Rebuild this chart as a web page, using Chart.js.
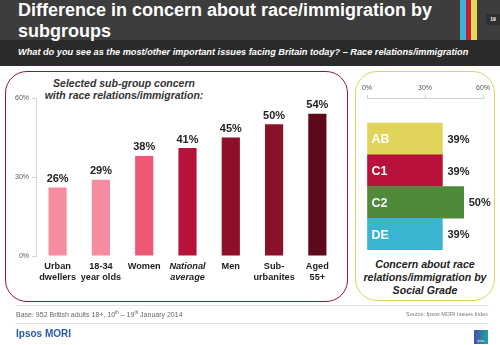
<!DOCTYPE html>
<html>
<head>
<meta charset="utf-8">
<script src="https://cdn.jsdelivr.net/npm/chart.js@4"></script>
<style>
  body { margin: 0; width: 500px; height: 345px; background: #fff; font-family: "Liberation Sans", Arial, sans-serif; position: relative; overflow: hidden; }
  .abs { position: absolute; }
  #head { left: 0; top: 0; width: 500px; height: 40px; background: #3d3d3d; }
  #sub { left: 0; top: 40px; width: 500px; height: 26px; background: #2a2a2a; }
  #title { left: 18px; top: 0; color: #fff; font-weight: bold; font-size: 18px; line-height: 21px; }
  #question { left: 18px; top: 47px; color: #fff; font-weight: bold; font-style: italic; font-size: 9.2px; }
  .stripe { top: 0; height: 40px; width: 6px; }
  #pageno { left: 486px; top: 14px; width: 14px; height: 11px; background: #303030; color: #fff; font-size: 5px; line-height: 11px; text-align: center; font-weight: bold; }
  .panel { box-sizing: border-box; border-radius: 22px; }
  #leftPanel { left: 5px; top: 71px; width: 343px; height: 231px; border: 1.5px solid #8e1a32; }
  #rightPanel { left: 355px; top: 71px; width: 140px; height: 230px; border: 1.5px solid #e2d55c; }
  #leftTitle { left: 30px; top: 77px; width: 188px; text-align: center; font-weight: bold; font-style: italic; font-size: 10.5px; line-height: 12px; color: #333; }
  #rightTitle { left: 357px; top: 258px; width: 136px; text-align: center; font-weight: bold; font-style: italic; font-size: 10.6px; line-height: 13px; color: #222; }
  #rule1 { left: 15px; top: 305px; width: 474px; height: 1px; background: #e4e4e4; }
  #rule2 { left: 15px; top: 323px; width: 474px; height: 1px; background: #e4e4e4; }
  #base { left: 16px; top: 310px; font-size: 7px; color: #666; }
  #base sup { font-size: 4.5px; }
  #source { right: 12px; top: 311px; font-size: 5.5px; color: #777; }
  #brand { left: 16px; top: 328px; font-size: 10px; font-weight: bold; color: #2b5aa6; }
  #logo { left: 474px; top: 330px; width: 14px; height: 14px; background: linear-gradient(90deg, #4a4fa8, #1aa6a0); color: #fff; font-size: 3px; text-align: center; line-height: 22px; }
  canvas { position: absolute; }
</style>
</head>
<body>
<div id="head" class="abs"></div>
<div id="sub" class="abs"></div>
<div id="title" class="abs">Difference in concern about race/immigration by<br>subgroups</div>
<div id="question" class="abs">What do you see as the most/other important issues facing Britain today? – Race relations/immigration</div>
<div class="abs stripe" style="left:460px;background:#3bb4cf"></div>
<div class="abs stripe" style="left:466px;width:5px;background:#c41d3b"></div>
<div class="abs stripe" style="left:471px;background:#e6da52"></div>
<div id="pageno" class="abs">19</div>

<div id="leftPanel" class="abs panel"></div>
<div id="rightPanel" class="abs panel"></div>
<div id="leftTitle" class="abs">Selected sub-group concern<br>with race relations/immigration:</div>
<div id="rightTitle" class="abs">Concern about race relations/immigration by Social Grade</div>

<canvas id="groupChart" width="350" height="240" style="left:0;top:70px"></canvas>
<canvas id="gradeChart" width="140" height="190" style="left:355px;top:70px"></canvas>

<div id="rule1" class="abs"></div>
<div id="rule2" class="abs"></div>
<div id="base" class="abs">Base: 952 British adults 18+, 10<sup>th</sup> – 19<sup>th</sup> January 2014</div>
<div id="source" class="abs">Source: Ipsos MORI Issues Index</div>
<div id="brand" class="abs">Ipsos MORI</div>
<div id="logo" class="abs">Ipsos</div>

<script>
const groupLabels = [['Urban', 'dwellers'], ['18-34', 'year olds'], 'Women', ['National', 'average'], 'Men', ['Sub-', 'urbanites'], ['Aged', '55+']];
const groupValues = [26, 29, 38, 41, 45, 50, 54];
const groupColors = ['#f68ca0', '#f68ca0', '#ee5877', '#b6133a', '#8d0f28', '#8b1029', '#5c0919'];
const groupTicks = [0, 30, 60];

const grades = ['AB', 'C1', 'C2', 'DE'];
const gradeValues = [39, 39, 50, 39];
const gradeColors = ['#e0d45c', '#b8123a', '#4f8a3a', '#3ab5d0'];
const gradeTicks = [0, 30, 60];

const FONT = '"Liberation Sans", Arial, sans-serif';

// percentage labels over the bars
const groupValueLabels = {
  id: 'groupValueLabels',
  afterDatasetsDraw(chart) {
    const ctx = chart.ctx;
    ctx.save();
    ctx.font = 'bold 11px ' + FONT;
    ctx.fillStyle = '#222';
    ctx.textAlign = 'center';
    ctx.textBaseline = 'bottom';
    chart.getDatasetMeta(0).data.forEach((bar, i) => {
      ctx.fillText(groupValues[i] + '%', bar.x, bar.y - 3);
    });
    ctx.restore();
  }
};

const groupChart = new Chart(document.getElementById('groupChart').getContext('2d'), {
  type: 'bar',
  data: {
    labels: groupLabels,
    datasets: [{
      data: groupValues,
      backgroundColor: groupColors,
      categoryPercentage: 1,
      barPercentage: 0.42
    }]
  },
  options: {
    responsive: false,
    animation: false,
    layout: { padding: { top: 28, right: 11, left: 0, bottom: 0 } },
    plugins: { legend: { display: false }, tooltip: { enabled: false } },
    scales: {
      x: {
        grid: { display: false, drawTicks: false },
        border: { display: false },
        afterFit(s) { s.height = 54; },
        ticks: {
          padding: 5,
          color: '#222',
          maxRotation: 0,
          autoSkip: false,
          font: (c) => ({ family: FONT, size: 9.2, weight: 'bold', style: c.index === 3 ? 'italic' : 'normal', lineHeight: 1.2 })
        }
      },
      y: {
        min: 0,
        max: 60,
        afterFit(s) { s.width = 36; },
        afterBuildTicks(s) { s.ticks = groupTicks.map(v => ({ value: v })); },
        grid: { drawOnChartArea: false, tickLength: 4, color: '#d4d4d4' },
        border: { color: '#d4d4d4' },
        ticks: {
          padding: 3,
          color: '#555',
          font: { family: FONT, size: 7 },
          callback: (v) => v + '%'
        }
      }
    }
  },
  plugins: [groupValueLabels]
});

// grade names inside the bars, percentages after them
const gradeLabels = {
  id: 'gradeLabels',
  afterDatasetsDraw(chart) {
    const ctx = chart.ctx;
    ctx.save();
    ctx.textBaseline = 'middle';
    chart.getDatasetMeta(0).data.forEach((bar, i) => {
      ctx.font = 'bold 12.5px ' + FONT;
      ctx.fillStyle = '#fff';
      ctx.textAlign = 'left';
      ctx.fillText(grades[i], bar.base + 4, bar.y + 1);
      ctx.font = 'bold 11px ' + FONT;
      ctx.fillStyle = '#222';
      ctx.fillText(gradeValues[i] + '%', bar.x + 5, bar.y + 1);
    });
    ctx.restore();
  }
};

const gradeChart = new Chart(document.getElementById('gradeChart').getContext('2d'), {
  type: 'bar',
  data: {
    datasets: [{
      data: gradeValues.map((v, i) => ({ x: v, y: i + 1 })),
      backgroundColor: gradeColors,
      categoryPercentage: 1,
      barPercentage: 1
    }]
  },
  options: {
    indexAxis: 'y',
    responsive: false,
    animation: false,
    layout: { padding: { top: 0, right: 12, left: 12, bottom: 10 } },
    plugins: { legend: { display: false }, tooltip: { enabled: false } },
    scales: {
      x: {
        position: 'top',
        min: 0,
        max: 60,
        afterFit(s) { s.height = 28; },
        afterBuildTicks(s) { s.ticks = gradeTicks.map(v => ({ value: v })); },
        grid: { drawOnChartArea: false, tickLength: 3, color: '#cfcfcf' },
        border: { color: '#cfcfcf' },
        ticks: {
          padding: 3,
          color: '#555',
          font: { family: FONT, size: 7 },
          callback: (v) => v + '%'
        }
      },
      y: {
        type: 'linear',
        display: false,
        reverse: true,
        offset: false,
        min: -0.29,
        max: 4.5
      }
    }
  },
  plugins: [gradeLabels]
});
</script>
</body>
</html>
